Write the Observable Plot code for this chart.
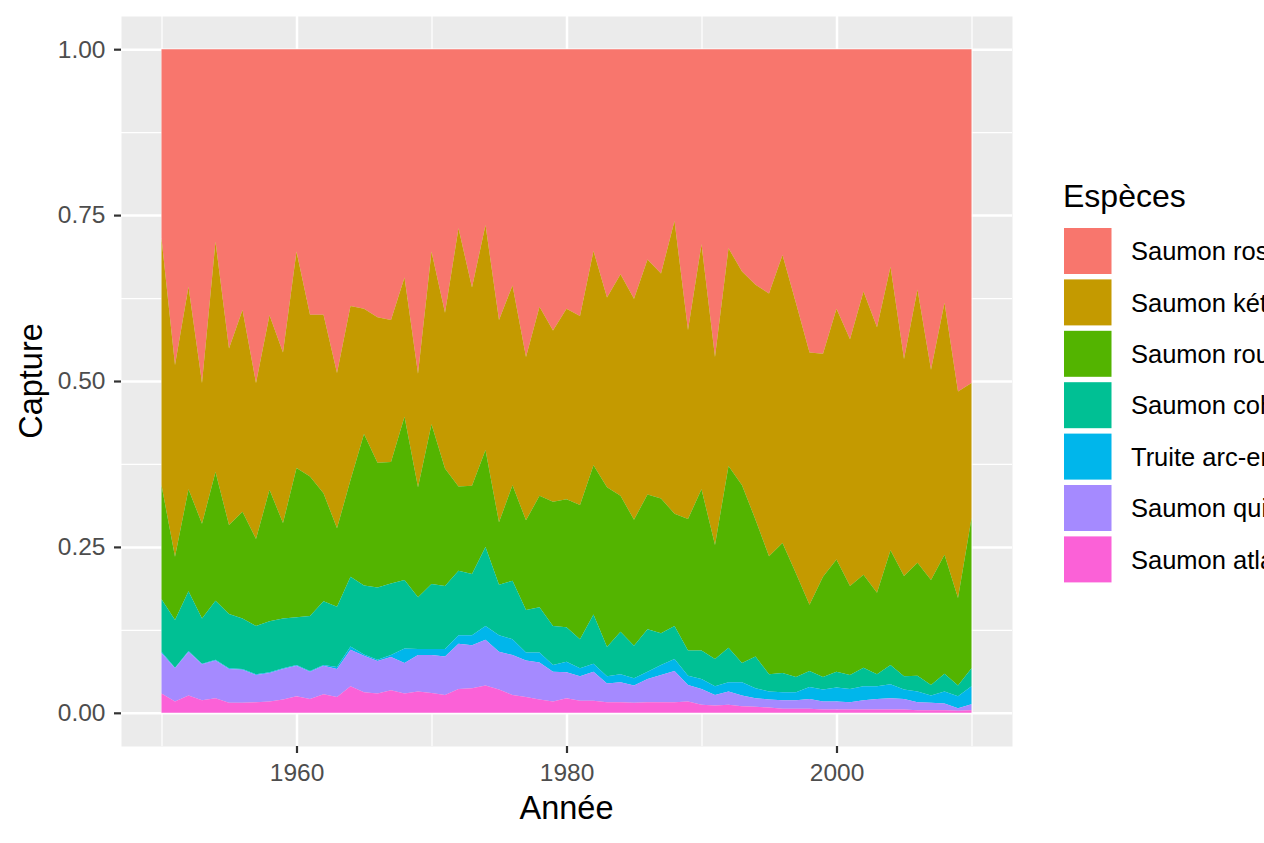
<!DOCTYPE html>
<html><head><meta charset="utf-8">
<script src="https://cdn.jsdelivr.net/npm/d3@7"></script>
<script src="https://cdn.jsdelivr.net/npm/@observablehq/plot@0.6"></script>
<style>
body{margin:0;background:#fff;font-family:"Liberation Sans",Arial,sans-serif;}
#wrap{position:relative;width:1264px;height:843px;overflow:hidden;background:#fff;}
#chart{position:absolute;left:0;top:0;}
#over{position:absolute;left:0;top:0;}
</style></head><body><div id="wrap"><div id="chart"></div><svg id="over" width="1264" height="843"></svg></div>
<script>
// Legend / stacking order (top of stack first)
const species = ["Saumon rose","Saumon kéta","Saumon rouge","Saumon coho","Truite arc-en-ciel","Saumon quinnat","Saumon atlantique"];
const colors = ["#F8766D","#C49A00","#53B400","#00C094","#00B6EB","#A58AFF","#FB61D7"];

const years = [1950,1951,1952,1953,1954,1955,1956,1957,1958,1959,
1960,1961,1962,1963,1964,1965,1966,1967,1968,1969,
1970,1971,1972,1973,1974,1975,1976,1977,1978,1979,
1980,1981,1982,1983,1984,1985,1986,1987,1988,1989,
1990,1991,1992,1993,1994,1995,1996,1997,1998,1999,
2000,2001,2002,2003,2004,2005,2006,2007,2008,2009,2010];

// Share of the catch (%) per species
const rose = [28.5,47.6,35.8,50.3,29.0,45.1,39.3,50.3,40.1,45.7,
30.5,40.0,40.0,48.8,38.7,39.1,40.4,40.8,34.4,48.9,
30.5,39.7,27.0,35.9,26.5,40.8,35.6,46.4,38.8,42.4,
39.1,40.2,30.4,37.4,33.9,37.6,31.7,33.8,25.9,42.3,
29.4,46.4,30.0,33.5,35.5,36.8,31.0,38.3,45.7,45.9,
39.1,43.7,36.5,41.9,32.8,46.7,36.2,48.3,38.2,51.6,50.3];
const keta = [37.2,28.9,30.5,21.2,34.7,26.6,30.4,23.5,26.3,25.7,
32.6,24.4,26.9,23.4,26.2,18.9,21.9,21.4,21.0,17.1,
26.0,23.5,38.9,29.9,33.9,30.5,30.1,24.6,28.5,25.8,
28.7,28.5,32.3,28.6,33.4,33.3,35.4,33.9,44.1,28.5,
36.9,28.3,32.8,32.2,35.4,39.6,43.4,40.7,38.0,33.6,
37.8,37.2,42.7,40.0,42.7,32.7,41.2,31.7,38.0,31.1,20.4];
const rouge = [17.2,9.5,15.4,14.3,19.4,13.4,16.1,13.1,19.8,14.4,
22.5,21.0,16.3,11.8,14.6,22.8,18.8,18.3,24.6,16.6,
24.1,17.7,12.7,13.3,14.6,9.4,14.4,13.5,16.8,18.7,
19.3,20.2,22.5,24.1,20.5,19.0,20.3,20.3,16.9,19.8,
24.3,17.2,27.4,26.8,20.6,17.8,19.6,15.6,10.0,15.1,
16.9,13.4,14.0,12.3,17.3,15.1,17.0,15.8,17.9,13.2,22.6];
const coho = [7.9,7.2,9.0,6.8,8.9,8.2,7.6,7.3,7.7,7.5,
7.2,8.3,9.6,9.1,10.5,10.4,10.9,10.8,10.3,7.8,
9.8,9.5,9.7,9.2,11.9,7.6,8.8,6.4,6.8,5.9,
5.2,4.4,7.4,4.4,6.4,4.9,6.4,4.8,5.0,3.8,
4.3,4.1,5.2,2.9,4.8,2.6,2.9,2.3,2.4,1.9,
2.4,2.1,2.8,1.8,2.9,2.0,2.4,1.6,2.7,1.6,2.7];
const truite = [0.2,0.1,0.1,0.1,0.1,0.1,0.1,0.1,0.1,0.1,
0.1,0.1,0.1,0.3,0.5,0.2,0.2,0.3,2.2,0.9,
0.9,1.1,1.3,1.5,2.1,2.5,2.4,1.2,1.5,1.0,
1.6,1.2,1.2,1.1,1.2,1.1,1.1,1.5,1.8,1.4,
1.5,1.3,1.4,2.0,1.5,1.2,1.2,1.2,1.8,1.8,
2.1,2.0,2.1,1.9,2.1,1.4,1.6,1.1,1.8,1.8,2.7];
const quinnat = [6.1,5.0,6.6,5.4,5.7,5.1,5.0,4.1,4.3,4.6,
4.6,4.1,4.3,4.2,5.5,5.5,4.9,5.0,4.6,5.5,
5.7,5.8,6.8,6.5,6.9,5.7,6.0,5.5,5.6,4.5,
3.9,3.7,4.4,2.8,3.0,2.6,3.5,4.1,4.7,2.5,
2.4,1.6,2.0,1.6,1.3,1.2,1.3,1.3,1.5,1.2,
1.2,1.1,1.4,1.6,1.7,1.6,1.2,1.1,1.0,0.4,0.9];
const atlantique = [2.9,1.7,2.6,1.9,2.2,1.5,1.5,1.6,1.7,2.0,
2.5,2.1,2.8,2.4,4.0,3.1,2.9,3.4,2.9,3.2,
3.0,2.7,3.6,3.7,4.1,3.5,2.7,2.4,2.0,1.7,
2.2,1.8,1.8,1.6,1.6,1.5,1.6,1.6,1.6,1.7,
1.2,1.1,1.2,1.0,0.9,0.8,0.6,0.6,0.6,0.5,
0.5,0.5,0.5,0.5,0.5,0.5,0.4,0.4,0.4,0.3,0.4];

const xTicks = [1960,1980,2000];
const xMinor = [1950,1970,1990,2010];
const yTicks = [0,0.25,0.5,0.75,1];
const yMinor = [0.125,0.375,0.625,0.875];

const seriesValues = [rose,keta,rouge,coho,truite,quinnat,atlantique];
const rows = [];
species.forEach((sp,i)=>years.forEach((yr,j)=>rows.push({year:yr, species:sp, value:seriesValues[i][j]})));
const stackOrder = species.slice().reverse(); // bottom first

const font = "Liberation Sans, Arial, sans-serif";
const plot = Plot.plot({
  width:1030, height:843,
  marginLeft:121, marginRight:18, marginTop:16, marginBottom:97,
  style:{fontFamily:font, background:"transparent", overflow:"visible"},
  x:{domain:[1947,2013], axis:null},
  y:{domain:[-0.05,1.05], axis:null},
  color:{domain:species, range:colors},
  marks:[
    Plot.frame({fill:"#EBEBEB", stroke:"none"}),
    Plot.ruleY(yMinor,{stroke:"#fff", strokeWidth:1.2}),
    Plot.ruleX(xMinor,{stroke:"#fff", strokeWidth:1.2}),
    Plot.ruleY(yTicks,{stroke:"#fff", strokeWidth:2.5}),
    Plot.ruleX(xTicks,{stroke:"#fff", strokeWidth:2.5}),
    Plot.areaY(rows, Plot.stackY({x:"year", y:"value", z:"species", fill:"species", order:stackOrder, offset:"normalize"})),
    Plot.axisX(xTicks,{tickFormat:d=>String(d), tickSize:7, tickPadding:10, fontSize:24.5, stroke:"#333333", fill:"#4D4D4D", strokeWidth:2.2, label:null}),
    Plot.axisY(yTicks,{tickFormat:d3.format(".2f"), tickSize:7, tickPadding:9, fontSize:24.5, stroke:"#333333", fill:"#4D4D4D", strokeWidth:2.2, label:null})
  ]
});
document.getElementById("chart").appendChild(plot);

// Titles and legend
const color = plot.scale("color");
const svg = d3.select("#over").style("font-family", font);
svg.append("text").attr("x",566.5).attr("y",819).attr("text-anchor","middle").attr("font-size",32.5).attr("fill","#000").text("Année");
svg.append("text").attr("transform","translate(42,381) rotate(-90)").attr("text-anchor","middle").attr("font-size",32.5).attr("fill","#000").text("Capture");
svg.append("text").attr("x",1063).attr("y",206.5).attr("font-size",32).attr("fill","#000").text("Espèces");
const g = svg.append("g").selectAll("g").data(species).join("g")
  .attr("transform",(d,i)=>`translate(1064,${228 + i*51.4})`);
g.append("rect").attr("width",47.5).attr("height",46).attr("fill",d=>color.apply(d));
g.append("text").attr("x",67).attr("y",23).attr("dy","0.36em").attr("font-size",25.5).attr("fill","#000").text(d=>d);
</script></body></html>
